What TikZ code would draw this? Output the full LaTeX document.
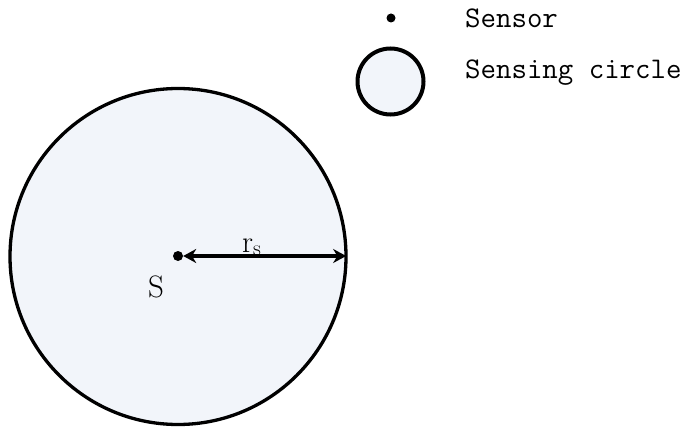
\documentclass[tikz,border=0pt]{standalone}
\usepackage{fontspec}
\usetikzlibrary{arrows.meta}
\definecolor{senfill}{RGB}{242,245,250}
\tikzset{
  sensdot/.style={circle, fill=black, inner sep=0pt, minimum size=#1},
  senscirc/.style={circle, draw=black, fill=senfill, inner sep=0pt},
  legtext/.style={anchor=base west, inner sep=0pt, font=\ttfamily\fontsize{30}{35}\selectfont},
  lbl/.style={anchor=base west, inner sep=0pt, font=\fontsize{31}{36}\selectfont},
  tip/.style={Stealth[length=13pt,width=14pt]},
}
\begin{document}
\begin{tikzpicture}[x=1pt,y=1pt]
\useasboundingbox (0,0) rectangle (698,426);
% main sensing circle
\node[senscirc, line width=3.3pt, minimum size=336pt] (bc) at (178,169.5) {};
\node[sensdot=10pt] (s) at (178,170) {};
\draw[line width=3.2pt, {Stealth[length=13pt,width=14pt]}-{Stealth[length=13pt,width=14pt]}, shorten >=1.5pt]
  (s.east) -- (s.east -| bc.east);
\node[lbl] (rs) at (242,174) {r$_{\mathrm{s}}$};
\node[lbl] (slab) at (148,129) {S};
% legend
\node[sensdot=9pt] (ldot) at (391,408) {};
\node[legtext] (tsensor) at (465,398) {Sensor};
\node[senscirc, line width=4pt, minimum size=66pt] (lcirc) at (390.5,344.5) {};
\node[legtext] (tcircle) at (465,347.6) {Sensing circle};
\end{tikzpicture}
\end{document}
